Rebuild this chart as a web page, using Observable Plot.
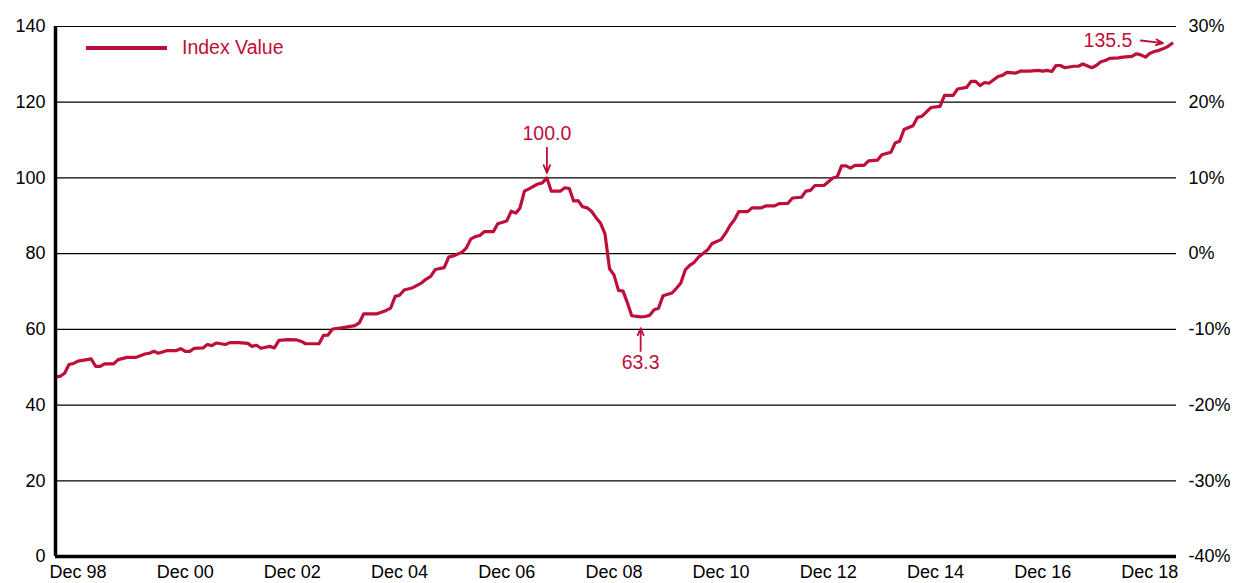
<!DOCTYPE html>
<html>
<head>
<meta charset="utf-8">
<script src="https://cdn.jsdelivr.net/npm/d3@7"></script>
<script src="https://cdn.jsdelivr.net/npm/@observablehq/plot@0.6"></script>
<style>
  html, body { margin: 0; padding: 0; background: #fff; }
  #wrap { position: relative; width: 1245px; height: 583px; }
  #legend { position: absolute; left: 86px; top: 36px; display: flex; align-items: center;
            font-family: "Liberation Sans", Arial, sans-serif; font-size: 19.5px; color: #BE0F3A; }
  #legend .sw { width: 81px; height: 4px; background: #BE0F3A; margin-right: 15px; }
</style>
</head>
<body>
<div id="wrap"><div id="legend"><span class="sw"></span><span>Index Value</span></div></div>
<script>
const RED = "#BE0F3A";

const dates = [
"1998-07","1998-08","1998-09","1998-10","1998-11","1998-12","1999-01","1999-03","1999-04","1999-05",
"1999-06","1999-08","1999-09","1999-11","2000-01","2000-03","2000-04","2000-05","2000-06","2000-08",
"2000-10","2000-11","2000-12","2001-01","2001-02","2001-04","2001-05","2001-06","2001-07","2001-09",
"2001-10","2001-12","2002-02","2002-03","2002-04","2002-05","2002-07","2002-08","2002-09","2002-11",
"2003-01","2003-02","2003-03","2003-06","2003-07","2003-08","2003-09","2003-11","2004-02","2004-03",
"2004-04","2004-07","2004-09","2004-10","2004-11","2004-12","2005-01","2005-03","2005-05","2005-06",
"2005-07","2005-08","2005-10","2005-11","2005-12","2006-02","2006-03","2006-04","2006-05","2006-06",
"2006-07","2006-09","2006-10","2006-12","2007-01","2007-02","2007-03","2007-04","2007-05","2007-07",
"2007-08","2007-09","2007-10","2007-12","2008-01","2008-02","2008-03","2008-04","2008-05","2008-06",
"2008-07","2008-08","2008-09","2008-10","2008-11","2008-12","2009-01","2009-02","2009-03","2009-04",
"2009-06","2009-07","2009-08","2009-09","2009-10","2009-11","2010-01","2010-02","2010-03","2010-04",
"2010-05","2010-06","2010-07","2010-09","2010-10","2010-12","2011-01","2011-02","2011-03","2011-04",
"2011-06","2011-07","2011-09","2011-10","2011-12","2012-01","2012-03","2012-04","2012-06","2012-07",
"2012-08","2012-09","2012-11","2013-01","2013-02","2013-03","2013-04","2013-05","2013-06","2013-08",
"2013-09","2013-11","2013-12","2014-02","2014-03","2014-04","2014-05","2014-07","2014-08","2014-09",
"2014-11","2015-01","2015-02","2015-04","2015-05","2015-07","2015-08","2015-09","2015-10","2015-11",
"2015-12","2016-02","2016-03","2016-04","2016-06","2016-07","2016-09","2016-11","2016-12","2017-01",
"2017-02","2017-03","2017-04","2017-05","2017-07","2017-08","2017-09","2017-11","2017-12","2018-01",
"2018-02","2018-03","2018-05","2018-06","2018-08","2018-09","2018-10","2018-11","2018-12","2019-01",
"2019-02","2019-03","2019-04","2019-05"
];

const values = [
47.5,47.6,48.4,50.7,51.0,51.6,51.8,52.2,50.2,50.2,
50.9,50.9,52.0,52.6,52.6,53.5,53.7,54.2,53.7,54.4,
54.4,54.9,54.2,54.2,55.0,55.1,56.0,55.7,56.4,56.0,
56.5,56.5,56.3,55.5,55.8,55.0,55.5,55.1,57.1,57.3,
57.2,56.8,56.2,56.2,58.4,58.5,60.1,60.4,61.0,61.7,
64.1,64.1,65.0,65.6,68.7,69.0,70.4,71.0,72.3,73.3,
74.0,75.8,76.3,79.1,79.4,80.4,81.5,83.9,84.5,84.8,
85.8,85.8,87.9,88.6,91.2,90.7,92.0,96.5,97.1,98.4,
98.7,100.0,96.5,96.5,97.4,97.2,93.9,94.0,92.4,92.1,
91.2,89.5,88.0,85.2,76.0,74.4,70.3,70.1,67.2,63.6,
63.3,63.4,63.7,65.2,65.6,68.9,69.6,70.9,72.2,75.7,
76.9,77.7,79.1,81.0,82.7,83.7,85.4,87.5,88.9,91.1,
91.1,92.1,92.1,92.6,92.6,93.2,93.3,94.7,94.9,96.5,
96.7,98.0,98.0,100.0,100.4,103.2,103.2,102.6,103.3,103.3,
104.5,104.7,106.1,106.8,109.2,109.7,112.8,113.8,116.0,116.3,
118.6,118.9,121.8,121.8,123.5,123.9,125.5,125.5,124.4,125.2,
125.0,126.8,127.1,127.9,127.7,128.2,128.2,128.4,128.2,128.4,
128.1,129.7,129.7,129.1,129.5,129.5,130.1,129.1,129.7,130.7,
131.0,131.6,131.7,131.9,132.1,132.8,132.5,131.9,132.9,133.4,
133.7,134.1,134.7,135.5
];

const yTicks = [0, 20, 40, 60, 80, 100, 120, 140];
const yRightLabels = ["-40%", "-30%", "-20%", "-10%", "0%", "10%", "20%", "30%"];
const xTickDates = ["1998-12","2000-12","2002-12","2004-12","2006-12","2008-12","2010-12","2012-12","2014-12","2016-12","2018-12"];
const xTickLabels = ["Dec 98","Dec 00","Dec 02","Dec 04","Dec 06","Dec 08","Dec 10","Dec 12","Dec 14","Dec 16","Dec 18"];

const annoDates = ["2007-09", "2009-06", "2019-05"];
const annoValues = [100.0, 63.3, 135.5];
const annoLabels = ["100.0", "63.3", "135.5"];

const parse = d3.utcParse("%Y-%m");
const data = dates.map((d, i) => ({date: parse(d), value: values[i]}));
const xt = xTickDates.map(parse);
const annos = annoDates.map((d, i) => ({date: parse(d), value: annoValues[i], label: annoLabels[i]}));
const xDomain = [parse("1998-07"), parse("2019-06")];

const font = "'Liberation Sans', Arial, Helvetica, sans-serif";

const peak = [annos[0]], trough = [annos[1]], last = [annos[2]];

const chart = Plot.plot({
  width: 1245,
  height: 583,
  marginLeft: 55,
  marginRight: 69,
  marginTop: 26,
  marginBottom: 27,
  x: {type: "utc", domain: xDomain, label: null},
  y: {domain: [0, 140], label: null},
  style: {fontFamily: font, fontSize: "18px", color: "#000", background: "transparent", overflow: "visible"},
  marks: [
    Plot.ruleY(yTicks.filter(d => d > 0), {stroke: "#000", strokeWidth: 1.2}),
    Plot.line(data, {x: "date", y: "value", stroke: RED, strokeWidth: 3.2, strokeLinejoin: "round"}),
    Plot.ruleY([0], {stroke: "#000", strokeWidth: 3.5}),
    Plot.ruleX([xDomain[0]], {stroke: "#000", strokeWidth: 3.5}),
    Plot.axisY(yTicks, {anchor: "left", label: null, tickSize: 0, tickPadding: 10, tickFormat: d => String(d), fontSize: 18, letterSpacing: "0.4px"}),
    Plot.axisY(yTicks, {anchor: "right", label: null, tickSize: 0, tickPadding: 12, tickFormat: d => yRightLabels[yTicks.indexOf(d)], fontSize: 18, letterSpacing: "0.4px"}),
    Plot.axisX(xt, {anchor: "bottom", label: null, tickSize: 0, tickPadding: 9, tickFormat: d => xTickLabels[xt.findIndex(t => +t === +d)], fontSize: 18, letterSpacing: "0.4px"}),
    // peak annotation
    Plot.text(peak, {x: "date", y: "value", text: "label", dy: -44, fill: RED, fontSize: 19.5, textAnchor: "middle"}),
    Plot.arrow(peak, {x: "date", x2: "date", y1: d => d.value + 8, y2: d => d.value + 1.3, stroke: RED, strokeWidth: 1.8, headLength: 10, headAngle: 45}),
    // trough annotation
    Plot.text(trough, {x: "date", y: "value", text: "label", dy: 46, fill: RED, fontSize: 19.5, textAnchor: "middle"}),
    Plot.arrow(trough, {x: "date", x2: "date", y1: d => d.value - 9, y2: d => d.value - 3, stroke: RED, strokeWidth: 1.8, headLength: 10, headAngle: 45}),
    // last annotation
    Plot.text(last, {x: "date", y: "value", text: "label", dx: -64, dy: -3, fill: RED, fontSize: 19.5, textAnchor: "middle"}),
    Plot.arrow(last, {x1: d => d3.utcMonth.offset(d.date, -7), x2: d => d3.utcMonth.offset(d.date, -2), y1: d => d.value + 0.8, y2: d => d.value + 0.1, stroke: RED, strokeWidth: 1.8, headLength: 10, headAngle: 45})
  ]
});

document.getElementById("wrap").prepend(chart);
</script>
</body>
</html>
